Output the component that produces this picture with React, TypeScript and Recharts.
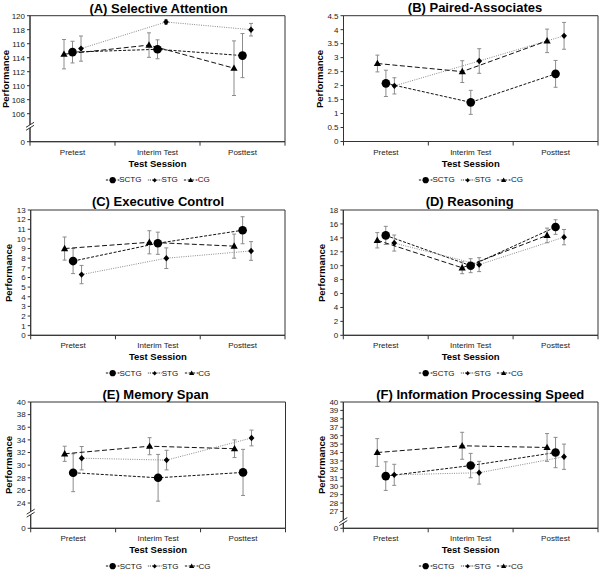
import React from 'react'
import { LineChart, Line, XAxis, YAxis, ErrorBar, ReferenceArea, ReferenceDot } from 'recharts'

const sessions = ['Pretest', 'Interim Test', 'Posttest']
const groups = ['SCTG', 'STG', 'CG']

// (A) Selective Attention
const attnSCTG = [114.8, 115.2, 114.3]
const attnSCTGErr = [1.55, 1.35, 3.15]
const attnSTG = [115.3, 119.1, 118.0]
const attnSTGErr = [1.8, 0.3, 0.9]
const attnCG = [114.5, 115.8, 112.5]
const attnCGErr = [2.1, 1.75, 3.9]

// (B) Paired-Associates
const pairSCTG = [2.08, 1.4, 2.42]
const pairSCTGErr = [0.47, 0.43, 0.48]
const pairSTG = [1.99, 2.88, 3.78]
const pairSTGErr = [0.29, 0.44, 0.48]
const pairCG = [2.79, 2.5, 3.6]
const pairCGErr = [0.3, 0.39, 0.42]

// (C) Executive Control
const execSCTG = [7.7, 9.55, 10.9]
const execSCTGErr = [1.3, 1.15, 1.4]
const execSTG = [6.3, 8.0, 8.75]
const execSTGErr = [0.95, 1.07, 0.97]
const execCG = [9.0, 9.65, 9.25]
const execCGErr = [1.2, 1.2, 1.25]

// (D) Reasoning
const reasSCTG = [14.35, 10.0, 15.55]
const reasSCTGErr = [1.3, 1.0, 1.05]
const reasSTG = [13.25, 10.15, 14.1]
const reasSTGErr = [1.15, 1.0, 1.1]
const reasCG = [13.65, 9.7, 14.35]
const reasCGErr = [1.1, 0.85, 1.05]

// (E) Memory Span
const memSCTG = [28.8, 28.0, 28.85]
const memSCTGErr = [3.0, 3.7, 3.65]
const memSTG = [31.1, 30.8, 34.3]
const memSTGErr = [1.85, 1.55, 1.25]
const memCG = [31.8, 33.0, 32.6]
const memCGErr = [1.2, 1.35, 1.4]

// (F) Information Processing Speed
const speedSCTG = [31.2, 32.45, 34.0]
const speedSCTGErr = [1.7, 1.45, 1.8]
const speedSTG = [31.35, 31.6, 33.5]
const speedSTGErr = [1.25, 1.35, 1.5]
const speedCG = [34.0, 34.8, 34.6]
const speedCGErr = [1.65, 1.6, 1.65]

// y ticks; on broken axes the lowest tick is drawn as "0"
const attnTicks = [102, 106, 108, 110, 112, 114, 116, 118, 120]
const pairTicks = [0, 0.5, 1, 1.5, 2, 2.5, 3, 3.5, 4, 4.5]
const execTicks = [0, 1, 2, 3, 4, 5, 6, 7, 8, 9, 10, 11, 12, 13]
const reasTicks = [0, 2, 4, 6, 8, 10, 12, 14, 16, 18]
const memTicks = [20, 24, 26, 28, 30, 32, 34, 36, 38, 40]
const speedTicks = [25, 27, 28, 29, 30, 31, 32, 33, 34, 35, 36, 37, 38, 39, 40]

const FONT = "'Liberation Sans', Arial, Helvetica, sans-serif"
const AXIS = '#333'
const ERR = '#8c8c8c'

const circle = (cx: number, cy: number, s: number, key?: string) => (
  <circle key={key} cx={cx} cy={cy} r={4.3 * s} fill="#000" />
)
const diamond = (cx: number, cy: number, s: number, key?: string) => (
  <polygon
    key={key}
    points={`${cx},${cy - 3.2 * s} ${cx + 2.9 * s},${cy} ${cx},${cy + 3.2 * s} ${cx - 2.9 * s},${cy}`}
    fill="#000"
  />
)
const triangle = (cx: number, cy: number, s: number, key?: string) => (
  <polygon
    key={key}
    points={`${cx},${cy - 3.8 * s} ${cx + 3.6 * s},${cy + 2.6 * s} ${cx - 3.6 * s},${cy + 2.6 * s}`}
    fill="#000"
  />
)

const seriesStyle: Record<string, any> = {
  SCTG: { offset: 0, stroke: '#111', dash: '3 1.6', marker: circle },
  STG: { offset: 0.1, stroke: '#8a8a8a', dash: '1 1.3', marker: diamond },
  CG: { offset: -0.1, stroke: '#111', dash: '5 2.5', marker: triangle },
}

const makeDot = (g: string) => (p: any) =>
  p.cx == null ? null : seriesStyle[g].marker(p.cx, p.cy, 1, `${g}${p.index}`)

const SessionTick = ({ x, y, payload }: any) => {
  const v = payload.value
  if (Number.isInteger(v)) return <line x1={x} x2={x} y1={y - 4} y2={y} stroke={AXIS} />
  return (
    <text x={x} y={y + 9} textAnchor="middle" fontSize={8} fill="#222" fontFamily={FONT}>
      {sessions[Math.floor(v)]}
    </text>
  )
}

const BreakMark = ({ cx, cy }: any) => (
  <g>
    <polygon points={`${cx - 4},${cy + 1} ${cx + 4},${cy - 4} ${cx + 4},${cy - 1} ${cx - 4},${cy + 4}`} fill="#fff" />
    <line x1={cx - 4} y1={cy + 1} x2={cx + 4} y2={cy - 4} stroke={AXIS} />
    <line x1={cx - 4} y1={cy + 4} x2={cx + 4} y2={cy - 1} stroke={AXIS} />
  </g>
)

const LegendIcon = ({ name }: { name: string }) => {
  const s = seriesStyle[name]
  return (
    <svg width={14} height={9} style={{ display: 'block' }}>
      <line x1={0} x2={14} y1={4.5} y2={4.5} stroke="#111" strokeDasharray={name === 'STG' ? '1 1.2' : '2.5 1.5'} />
      {s.marker(7, 4.7, 0.72)}
    </svg>
  )
}

interface PanelProps {
  left: number
  top: number
  title: string
  titleX: number
  titleY: number
  labelX: number
  plot: { l: number; r: number; t: number; b: number }
  ticks: number[]
  breakAt?: number
  values: Record<string, number[]>
  errors: Record<string, number[]>
}

function Panel({ left, top, title, titleX, titleY, labelX, plot, ticks, breakAt, values, errors }: PanelProps) {
  const yMin = ticks[0]
  const yMax = ticks[ticks.length - 1]
  const cx = (plot.l + plot.r) / 2
  const cy = (plot.t + plot.b) / 2
  const xAxisH = 20
  return (
    <div style={{ position: 'absolute', left, top, width: 300, height: 190, fontFamily: FONT }}>
      <LineChart
        width={300}
        height={190}
        margin={{ top: plot.t, right: 300 - plot.r, left: 0, bottom: 190 - plot.b - xAxisH }}
      >
        <XAxis
          type="number"
          dataKey="x"
          domain={[0, 3]}
          ticks={[0, 0.5, 1, 1.5, 2, 2.5, 3]}
          interval={0}
          height={xAxisH}
          tickSize={4}
          tickMargin={0}
          tickLine={false}
          tick={<SessionTick />}
          axisLine={{ stroke: AXIS }}
        />
        <YAxis
          type="number"
          width={plot.l}
          domain={[yMin, yMax]}
          ticks={ticks}
          interval={0}
          allowDataOverflow
          tickSize={3}
          tickMargin={2}
          tick={{ fontSize: 8, fill: '#222', fontFamily: FONT }}
          tickLine={{ stroke: AXIS }}
          axisLine={{ stroke: AXIS }}
          tickFormatter={(v: number) => (breakAt != null && v === yMin ? '0' : String(v))}
        />
        <ReferenceArea x1={0} x2={3} y1={yMin} y2={yMax} fill="none" fillOpacity={0} stroke={AXIS} strokeWidth={1} />
        {groups.map((g) => {
          const s = seriesStyle[g]
          const data = sessions.map((_, i) => ({ x: i + 0.5 + s.offset, y: values[g][i], err: errors[g][i] }))
          return (
            <Line
              key={g}
              data={data}
              dataKey="y"
              name={g}
              stroke={s.stroke}
              strokeWidth={1}
              strokeDasharray={s.dash}
              dot={makeDot(g)}
              activeDot={false}
              isAnimationActive={false}
            >
              <ErrorBar dataKey="err" direction="y" width={2} stroke={ERR} strokeWidth={1} />
            </Line>
          )
        })}
        {breakAt != null && (
          <ReferenceDot x={0} y={breakAt} r={0} ifOverflow="visible" shape={BreakMark} />
        )}
      </LineChart>
      <div style={{ position: 'absolute', left: titleX, top: titleY, transform: 'translate(-50%,-50%)', fontSize: 13, fontWeight: 'bold', whiteSpace: 'nowrap', lineHeight: 1, color: '#000' }}>
        {title}
      </div>
      <div style={{ position: 'absolute', left: cx, top: plot.b + 22, transform: 'translate(-50%,-50%)', fontSize: 9.5, fontWeight: 'bold', whiteSpace: 'nowrap', lineHeight: 1 }}>
        Test Session
      </div>
      <div style={{ position: 'absolute', left: labelX, top: cy, transform: 'translate(-50%,-50%) rotate(-90deg)', fontSize: 9.5, fontWeight: 'bold', whiteSpace: 'nowrap', lineHeight: 1 }}>
        Performance
      </div>
      <div style={{ position: 'absolute', left: cx, top: plot.b + 38, transform: 'translate(-50%,-50%)', display: 'flex', alignItems: 'center', gap: 6, fontSize: 8, whiteSpace: 'nowrap', lineHeight: 1, color: '#111' }}>
        {groups.map((g) => (
          <div key={g} style={{ display: 'flex', alignItems: 'center' }}>
            <LegendIcon name={g} />
            <span>{g}</span>
          </div>
        ))}
      </div>
    </div>
  )
}

export default function App() {
  return (
    <div style={{ position: 'absolute', left: 0, top: 0, width: 600, height: 571, background: '#fff' }}>
      <Panel
        left={0} top={0} title="(A) Selective Attention" titleX={158.5} titleY={7.5} labelX={5.5}
        plot={{ l: 30, r: 285, t: 15.7, b: 141.7 }} ticks={attnTicks} breakAt={104.2}
        values={{ SCTG: attnSCTG, STG: attnSTG, CG: attnCG }}
        errors={{ SCTG: attnSCTGErr, STG: attnSTGErr, CG: attnCGErr }}
      />
      <Panel
        left={300} top={0} title="(B) Paired-Associates" titleX={175} titleY={7} labelX={20}
        plot={{ l: 43.5, r: 298, t: 15.7, b: 141.5 }} ticks={pairTicks}
        values={{ SCTG: pairSCTG, STG: pairSTG, CG: pairCG }}
        errors={{ SCTG: pairSCTGErr, STG: pairSTGErr, CG: pairCGErr }}
      />
      <Panel
        left={0} top={190} title="(C) Executive Control" titleX={158} titleY={10.7} labelX={9}
        plot={{ l: 30.7, r: 285, t: 20, b: 145.3 }} ticks={execTicks}
        values={{ SCTG: execSCTG, STG: execSTG, CG: execCG }}
        errors={{ SCTG: execSCTGErr, STG: execSTGErr, CG: execCGErr }}
      />
      <Panel
        left={300} top={190} title="(D) Reasoning" titleX={169.7} titleY={10.7} labelX={22}
        plot={{ l: 43.3, r: 298, t: 20, b: 145.3 }} ticks={reasTicks}
        values={{ SCTG: reasSCTG, STG: reasSTG, CG: reasCG }}
        errors={{ SCTG: reasSCTGErr, STG: reasSTGErr, CG: reasCGErr }}
      />
      <Panel
        left={0} top={380} title="(E) Memory Span" titleX={155.5} titleY={14} labelX={8.5}
        plot={{ l: 30.7, r: 285.5, t: 22, b: 148.3 }} ticks={memTicks} breakAt={22.4}
        values={{ SCTG: memSCTG, STG: memSTG, CG: memCG }}
        errors={{ SCTG: memSCTGErr, STG: memSTGErr, CG: memCGErr }}
      />
      <Panel
        left={300} top={380} title="(F) Information Processing Speed" titleX={180.3} titleY={14} labelX={22}
        plot={{ l: 43.3, r: 298, t: 22, b: 148.3 }} ticks={speedTicks} breakAt={25.8}
        values={{ SCTG: speedSCTG, STG: speedSTG, CG: speedCG }}
        errors={{ SCTG: speedSCTGErr, STG: speedSTGErr, CG: speedCGErr }}
      />
    </div>
  )
}
